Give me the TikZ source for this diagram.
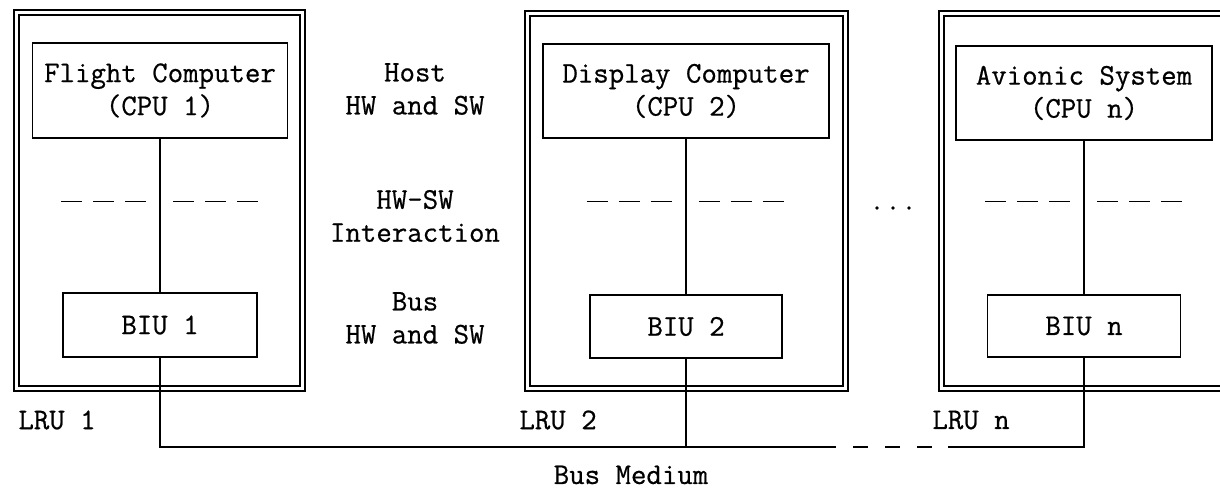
\documentclass[tikz,border=0pt]{standalone}
\usepackage{fontspec}
\setmonofont{Latin Modern Mono}[FakeBold=0.6]
\begin{document}
\begin{tikzpicture}[x=0.5pt,y=-0.5pt,
  every node/.style={font=\ttfamily\fontsize{15}{16.5}\selectfont},
  unit/.style={draw,line width=0.8pt,inner sep=0pt,align=center},
  lrubox/.style={draw,double,line width=0.65pt,double distance=1.85pt,inner sep=0pt},
  wire/.style={line width=0.8pt},
  ifline/.style={line width=0.8pt,dash pattern=on 10.5pt off 5.5pt},
  busgap/.style={line width=0.8pt,dash pattern=on 7.5pt off 8.5pt},
  lbl/.style={align=center,inner sep=0pt},
  dot/.style={circle,fill,inner sep=0pt,minimum size=1.8pt}
]
\useasboundingbox (0,0) rectangle (1220,490);

% line replaceable units (double frames)
\node[lrubox,minimum width=143pt,minimum height=188pt] (lru1box) at (159.5,200.5) {};
\node[lrubox,minimum width=159pt,minimum height=187.5pt] (lru2box) at (686.5,201) {};
\draw[line width=0.65pt,double,double distance=1.85pt] (1220,13.5) -| (941.5,388.5) -- (1220,388.5);

% host computers
\node[unit,minimum width=127.5pt,minimum height=47.5pt] (fc) at (160,90.5) {Flight Computer\\(CPU 1)};
\node[unit,minimum width=143pt,minimum height=47pt] (dc) at (686,91) {Display Computer\\(CPU 2)};
\node[unit,minimum width=128pt,minimum height=47pt] (av) at (1084,93) {Avionic System\\(CPU n)};

% bus interface units
\node[unit,minimum width=97pt,minimum height=32pt] (biu1) at (160,325) {BIU 1};
\node[unit,minimum width=96pt,minimum height=31.5pt] (biu2) at (686,326.5) {BIU 2};
\node[unit,minimum width=96.5pt,minimum height=31pt] (biun) at (1084,326) {BIU n};

% host to BIU links
\draw[wire] (fc) -- (biu1);
\draw[wire] (dc) -- (biu2);
\draw[wire] (av) -- (biun);

% HW-SW interaction boundaries
\foreach \c in {160,686,1084}{
  \draw[ifline] (\c-99,201.5) -- (\c-13,201.5);
  \draw[ifline] (\c+13,201.5) -- (\c+99,201.5);
}

% ellipsis between LRUs
\node[dot] (d1) at (877,208) {};
\node[dot] (d2) at (893,208) {};
\node[dot] (d3) at (909,208) {};

% layer labels
\node[lbl] (host) at (415,89) {Host\\HW and SW};
\node[lbl] (inter) at (415,216) {HW-SW\\Interaction};
\node[lbl] (bushw) at (415,318) {Bus\\HW and SW};

% LRU labels
\node[lbl,anchor=west] (lru1) at (18,420) {LRU 1};
\node[lbl,anchor=west] (lru2) at (519,420) {LRU 2};
\node[lbl,anchor=west] (lrun) at (932,420) {LRU n};

% bus medium
\coordinate (j1) at (160,447);
\coordinate (j2) at (686,447);
\coordinate (jn) at (1084,447);
\coordinate (b1) at (836,447);
\coordinate (b2) at (853,447);
\coordinate (b3) at (933,447);
\coordinate (b4) at (948,447);
\draw[wire] (biu1.south) -- (j1) -- (j2) -- (biu2.south);
\draw[wire] (j2) -- (b1);
\draw[busgap] (b2) -- (b3);
\draw[wire] (b4) -- (jn) -- (biun.south);
\node[lbl,anchor=base] (busmed) at (631,484) {Bus Medium};
\end{tikzpicture}
\end{document}
